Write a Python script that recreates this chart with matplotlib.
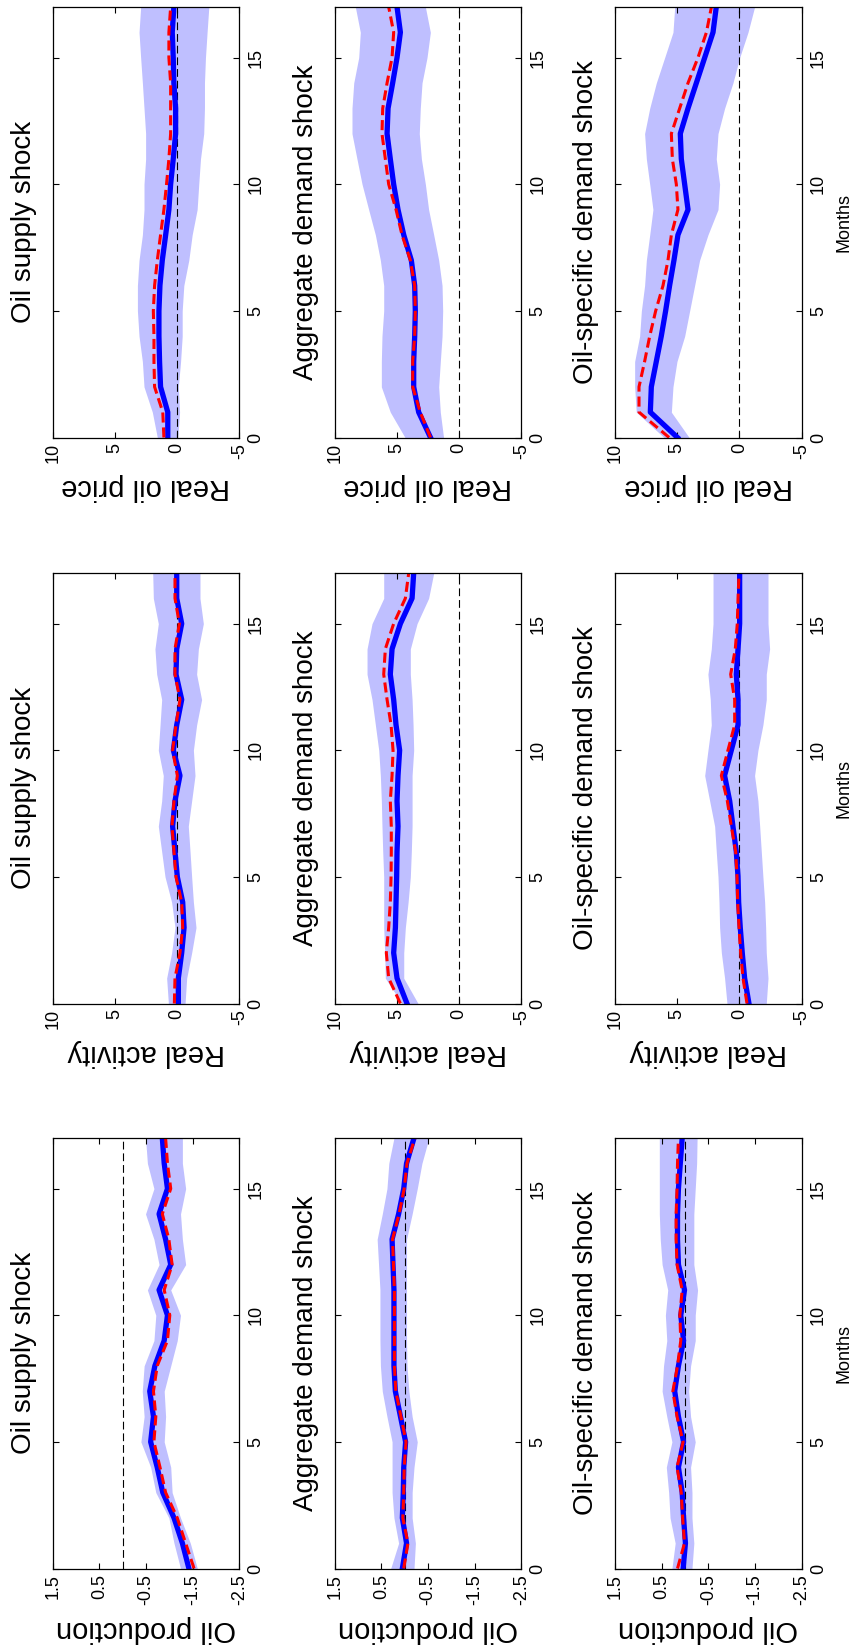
import numpy as np
import matplotlib.pyplot as plt

plt.rcParams["font.family"] = ["Liberation Sans", "DejaVu Sans"]
plt.rcParams["axes.unicode_minus"] = False

months = np.arange(18)

shocks = ["Oil supply shock", "Aggregate demand shock", "Oil-specific demand shock"]
variables = ["Real oil price", "Real activity", "Oil production"]

# Real oil price responses: point estimate, alternative estimate, band bounds
price_supply = [0.75, 0.75, 1.33, 1.41, 1.46, 1.46, 1.38, 1.19, 0.92, 0.66, 0.52, 0.31, 0.12, 0.12, 0.26, 0.31, 0.39, 0.26]
price_supply_alt = [1.06, 1.15, 1.81, 1.86, 1.86, 1.91, 1.81, 1.59, 1.33, 1.06, 0.85, 0.66, 0.52, 0.52, 0.52, 0.66, 0.66, 0.52]
price_supply_hi = [1.59, 1.99, 2.66, 2.79, 3.06, 3.19, 3.19, 3.06, 2.79, 2.66, 2.66, 2.53, 2.53, 2.66, 2.79, 2.93, 3.06, 2.93]
price_supply_lo = [-0.05, -0.2, -0.1, -0.28, -0.41, -0.41, -0.54, -0.94, -1.21, -1.61, -1.74, -1.88, -2.14, -2.20, -2.20, -2.28, -2.41, -2.55]

price_agg = [2.3, 3.25, 3.65, 3.65, 3.57, 3.52, 3.57, 3.84, 4.45, 4.91, 5.26, 5.53, 5.79, 5.71, 5.34, 4.99, 4.72, 4.99]
price_agg_alt = [2.3, 3.12, 3.73, 3.73, 3.57, 3.52, 3.57, 3.92, 4.59, 5.07, 5.66, 5.93, 6.2, 6.14, 5.79, 5.39, 5.26, 5.66]
price_agg_hi = [4.35, 5.53, 6.25, 6.25, 6.20, 6.06, 6.06, 6.33, 6.73, 7.27, 7.80, 8.21, 8.61, 8.61, 8.47, 8.07, 7.94, 8.34]
price_agg_lo = [1.25, 1.51, 1.64, 1.51, 1.37, 1.32, 1.37, 1.64, 2.04, 2.45, 2.71, 3.03, 3.20, 3.12, 2.98, 2.58, 2.31, 2.71]

price_spec = [4.98, 7.16, 7.08, 6.68, 6.28, 5.93, 5.61, 5.26, 4.94, 4.13, 4.40, 4.67, 4.75, 4.13, 3.46, 2.79, 2.12, 1.86]
price_spec_alt = [5.65, 8.07, 8.07, 7.62, 7.21, 6.73, 6.14, 5.74, 5.47, 4.94, 5.07, 5.39, 5.47, 4.80, 4.13, 3.33, 2.65, 2.25]
price_spec_hi = [6.06, 8.29, 8.42, 8.42, 8.02, 7.88, 7.62, 7.48, 7.21, 6.95, 7.21, 7.48, 7.62, 7.21, 6.68, 6.01, 5.34, 5.20]
price_spec_lo = [4.04, 5.47, 5.34, 5.02, 4.40, 4.00, 3.60, 3.20, 2.53, 1.72, 1.59, 1.86, 1.72, 1.19, 0.52, -0.02, -0.69, -1.22]

# Real activity responses
act_supply = [-0.10, -0.10, -0.37, -0.56, -0.45, -0.02, 0.17, 0.36, 0.17, -0.23, 0.30, 0.03, -0.37, 0.09, 0.03, -0.37, 0.03, 0.03]
act_supply_alt = [0.22, 0.17, -0.23, -0.45, -0.37, 0.09, 0.25, 0.41, 0.25, -0.02, 0.36, 0.09, -0.23, 0.17, 0.17, -0.18, 0.17, 0.17]
act_supply_hi = [0.70, 0.84, 0.44, 0.17, 0.44, 0.97, 1.24, 1.51, 1.24, 1.11, 1.51, 1.37, 1.24, 1.64, 1.78, 1.51, 1.91, 1.96]
act_supply_lo = [-0.64, -0.77, -1.17, -1.52, -1.31, -1.17, -1.04, -0.90, -1.17, -1.44, -1.31, -1.57, -1.97, -1.57, -1.71, -2.11, -1.84, -1.84]

act_agg = [4.19, 4.99, 5.26, 5.12, 5.07, 5.02, 4.99, 4.91, 4.99, 4.91, 4.78, 5.07, 5.26, 5.53, 5.39, 4.72, 3.78, 3.65]
act_agg_alt = [4.72, 5.66, 5.85, 5.66, 5.53, 5.47, 5.45, 5.45, 5.53, 5.39, 5.31, 5.47, 5.79, 6.06, 5.93, 5.26, 4.32, 4.05]
act_agg_hi = [4.60, 5.93, 5.98, 6.06, 6.06, 6.06, 6.14, 6.20, 6.25, 6.33, 6.46, 6.73, 7.00, 7.40, 7.40, 7.00, 6.06, 6.06]
act_agg_lo = [3.30, 4.45, 4.45, 4.32, 4.10, 3.92, 3.84, 3.78, 3.78, 3.78, 3.65, 3.70, 3.78, 3.92, 3.92, 3.38, 2.45, 2.04]

act_spec = [-0.77, -0.42, -0.23, -0.07, 0.06, 0.11, 0.25, 0.52, 0.78, 1.19, 0.65, 0.11, 0.11, 0.25, 0.11, -0.02, -0.02, -0.02]
act_spec_alt = [-0.61, -0.29, -0.10, 0.03, 0.14, 0.19, 0.30, 0.65, 0.97, 1.45, 0.92, 0.38, 0.38, 0.70, 0.33, 0.17, 0.11, 0.03]
act_spec_hi = [1.00, 1.19, 1.45, 1.59, 1.64, 1.72, 1.86, 1.99, 2.39, 2.79, 2.53, 2.26, 2.34, 2.53, 2.26, 2.12, 2.12, 2.12]
act_spec_lo = [-2.16, -2.30, -2.16, -2.11, -2.03, -1.89, -1.76, -1.63, -1.49, -1.22, -1.49, -1.89, -2.16, -2.16, -2.43, -2.30, -2.30, -2.30]

# Oil production responses
prod_supply = [-1.42, -1.28, -1.10, -0.86, -0.74, -0.60, -0.66, -0.58, -0.69, -0.89, -0.96, -0.78, -1.03, -0.92, -0.78, -0.96, -0.89, -0.85]
prod_supply_alt = [-1.53, -1.35, -1.17, -0.92, -0.80, -0.67, -0.71, -0.66, -0.74, -0.96, -1.01, -0.89, -1.06, -0.99, -0.85, -1.03, -0.96, -0.92]
prod_supply_hi = [-1.24, -1.10, -0.99, -0.71, -0.60, -0.39, -0.46, -0.42, -0.46, -0.67, -0.71, -0.53, -0.78, -0.67, -0.49, -0.67, -0.53, -0.49]
prod_supply_lo = [-1.60, -1.45, -1.24, -1.06, -1.03, -0.89, -0.92, -0.89, -1.03, -1.17, -1.24, -1.03, -1.35, -1.28, -1.24, -1.35, -1.28, -1.28]

prod_agg = [0.05, -0.04, 0.05, 0.03, 0.02, -0.02, 0.09, 0.20, 0.23, 0.23, 0.23, 0.23, 0.25, 0.27, 0.13, 0.02, -0.04, -0.20]
prod_agg_alt = [0.02, -0.07, 0.04, 0.02, 0.01, -0.03, 0.08, 0.19, 0.22, 0.22, 0.22, 0.22, 0.24, 0.26, 0.12, 0.01, -0.05, -0.22]
prod_agg_hi = [0.30, 0.13, 0.23, 0.27, 0.27, 0.27, 0.38, 0.48, 0.52, 0.53, 0.53, 0.53, 0.56, 0.59, 0.48, 0.38, 0.34, 0.23]
prod_agg_lo = [-0.20, -0.23, -0.16, -0.16, -0.20, -0.27, -0.16, -0.09, -0.05, -0.04, -0.04, -0.04, -0.04, -0.04, -0.16, -0.27, -0.37, -0.52]

prod_spec = [0.04, -0.01, 0.03, 0.06, 0.14, 0.03, 0.14, 0.22, 0.14, 0.03, 0.09, 0.01, 0.14, 0.16, 0.16, 0.14, 0.10, 0.06]
prod_spec_alt = [0.16, 0.01, 0.05, 0.08, 0.17, 0.04, 0.17, 0.26, 0.16, 0.09, 0.11, 0.06, 0.17, 0.19, 0.19, 0.17, 0.16, 0.14]
prod_spec_hi = [0.28, 0.21, 0.32, 0.35, 0.40, 0.28, 0.39, 0.49, 0.46, 0.39, 0.42, 0.37, 0.49, 0.53, 0.55, 0.55, 0.55, 0.55]
prod_spec_lo = [-0.15, -0.19, -0.15, -0.15, -0.12, -0.22, -0.12, -0.08, -0.12, -0.22, -0.22, -0.27, -0.19, -0.19, -0.19, -0.22, -0.25, -0.26]

price_ticks = [10, 5, 0, -5]
act_ticks = [10, 5, 0, -5]
prod_ticks = [1.5, 0.5, -0.5, -1.5, -2.5]
month_ticks = [0, 5, 10, 15]

panels = [
    [(price_supply, price_supply_alt, price_supply_lo, price_supply_hi),
     (price_agg, price_agg_alt, price_agg_lo, price_agg_hi),
     (price_spec, price_spec_alt, price_spec_lo, price_spec_hi)],
    [(act_supply, act_supply_alt, act_supply_lo, act_supply_hi),
     (act_agg, act_agg_alt, act_agg_lo, act_agg_hi),
     (act_spec, act_spec_alt, act_spec_lo, act_spec_hi)],
    [(prod_supply, prod_supply_alt, prod_supply_lo, prod_supply_hi),
     (prod_agg, prod_agg_alt, prod_agg_lo, prod_agg_hi),
     (prod_spec, prod_spec_alt, prod_spec_lo, prod_spec_hi)],
]
value_ticks = [price_ticks, act_ticks, prod_ticks]

W, H = 858, 1652
fig = plt.figure(figsize=(W / 100, H / 100), dpi=100)

# pixel layout of the rotated grid
col_left = [52.7, 334.7, 615.0]
panel_w = 186.6
row_top = [7.0, 573.0, 1138.0]
panel_h = 430.5

for r, var in enumerate(variables):
    ticks = value_ticks[r]
    for c, shock in enumerate(shocks):
        mean, alt, lo, hi = panels[r][c]
        ax = fig.add_axes([col_left[c] / W, 1 - (row_top[r] + panel_h) / H,
                           panel_w / W, panel_h / H])

        ax.fill_betweenx(months, lo, hi, color="#bfbfff", lw=0)
        ax.axvline(0, color="black", lw=0.8, ls=(0, (7, 3.5)))
        ax.plot(mean, months, color="#0000ff", lw=3.8)
        ax.plot(alt, months, color="#ff0000", lw=2.2, ls=(0, (3.3, 1.6)))

        ax.set_xlim(max(ticks), min(ticks))
        ax.set_ylim(0, 17)
        ax.set_xticks(ticks)
        ax.set_xticklabels([f"{t:g}" for t in ticks])
        ax.set_yticks(month_ticks)
        ax.set_yticklabels([str(m) for m in month_ticks])

        ax.tick_params(axis="x", top=True, bottom=True, direction="in",
                       length=4, width=0.8, labelsize=13, labelrotation=90, pad=4)
        ax.tick_params(axis="y", left=True, right=True, labelleft=False, labelright=True,
                       direction="in", length=4, width=0.8, labelsize=13,
                       labelrotation=90, pad=6)
        for lbl in ax.get_yticklabels():
            lbl.set_va("center")
        for s in ax.spines.values():
            s.set_linewidth(0.9)

        ax.set_xlabel(var, fontsize=21, rotation=180, labelpad=7)
        ax.text(-0.155, 0.5, shock, transform=ax.transAxes, rotation=90,
                ha="center", va="center", fontsize=20)
        if c == 2:
            ax.yaxis.set_label_position("right")
            ax.set_ylabel("Months", fontsize=13, rotation=90, labelpad=6)

fig.savefig("out.png", dpi=100)
